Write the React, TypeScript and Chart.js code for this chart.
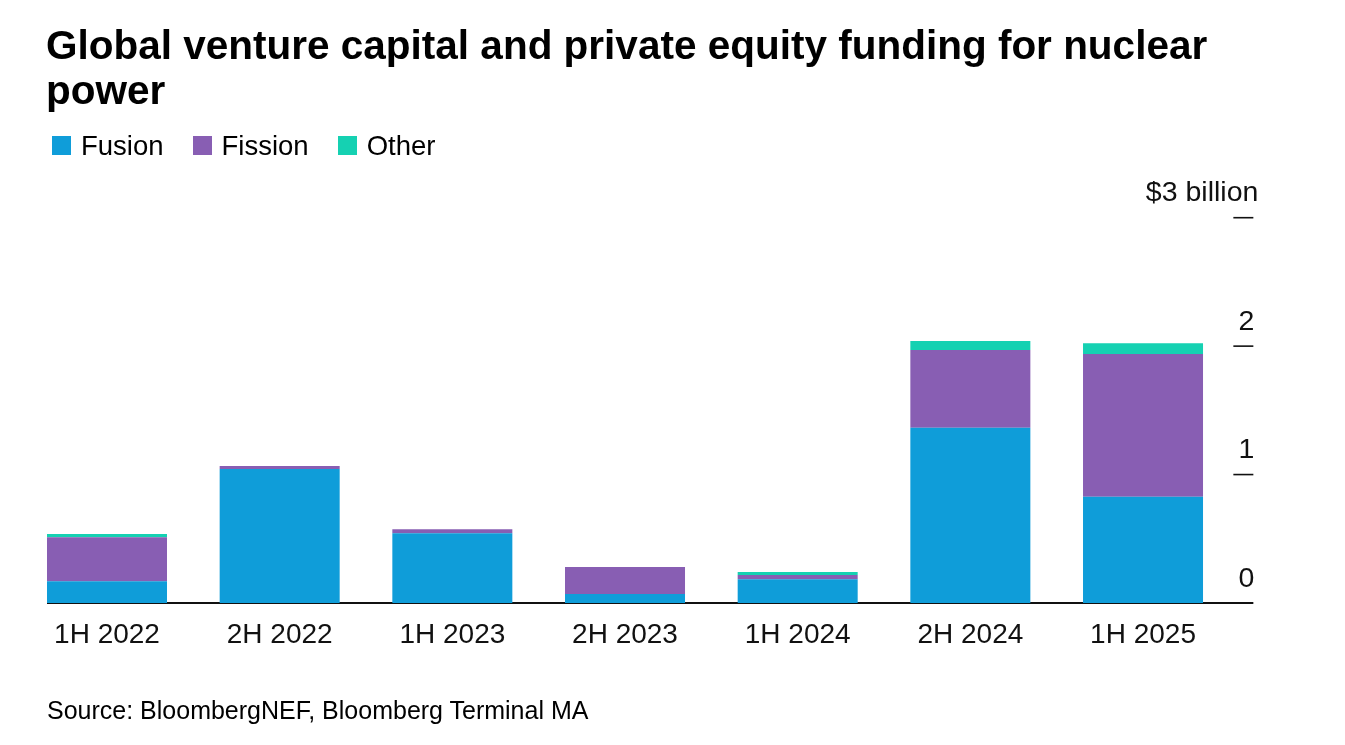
import React, { useEffect, useRef } from "react";
import { Chart, registerables } from "chart.js";

Chart.register(...registerables);

const categories = ["1H 2022", "2H 2022", "1H 2023", "2H 2023", "1H 2024", "2H 2024", "1H 2025"];
const fusion = [0.17, 1.044, 0.543, 0.07, 0.185, 1.365, 0.828];
const fission = [0.342, 0.023, 0.031, 0.21, 0.033, 0.605, 1.111];
const other = [0.025, 0, 0, 0, 0.023, 0.07, 0.084];
const seriesNames = ["Fusion", "Fission", "Other"];
const seriesColors = ["#0f9dd9", "#885eb3", "#15d1b2"];
const yTicks = [0, 1, 2, 3];
const yTickLabels = ["0", "1", "2", "$3 billion"];

const FONT = '"Liberation Sans", Arial, Helvetica, sans-serif';

const axisPlugin = {
  id: "axisDeco",
  beforeDatasetsDraw(chart: any) {
    const { ctx, chartArea, scales } = chart;
    const y = scales.y;
    const meta = chart.getDatasetMeta(0);
    const first: any = meta.data[0];
    const left = first.x - first.width / 2;
    const y0 = y.getPixelForValue(0);
    ctx.save();
    ctx.strokeStyle = "#111111";
    ctx.lineWidth = 2;
    ctx.beginPath();
    ctx.moveTo(left, y0);
    ctx.lineTo(chartArea.right + 24, y0);
    ctx.stroke();
    ctx.restore();
  },
  afterDatasetsDraw(chart: any) {
    const { ctx, chartArea, scales } = chart;
    const x = scales.x;
    const y = scales.y;
    ctx.save();
    ctx.strokeStyle = "#111111";
    ctx.lineWidth = 1.6;
    ctx.fillStyle = "#111111";
    ctx.font = `28.5px ${FONT}`;
    ctx.textAlign = "right";
    ctx.textBaseline = "alphabetic";
    yTicks.forEach((v, i) => {
      const py = y.getPixelForValue(v);
      if (v !== 0) {
        ctx.beginPath();
        ctx.moveTo(chartArea.right + 4, py);
        ctx.lineTo(chartArea.right + 24, py);
        ctx.stroke();
      }
      const isTop = i === yTicks.length - 1;
      ctx.fillText(yTickLabels[i], chartArea.right + (isTop ? 29 : 25), py - 16.5);
    });
    ctx.textAlign = "center";
    ctx.font = `28px ${FONT}`;
    const y0 = y.getPixelForValue(0);
    categories.forEach((c, i) => {
      ctx.fillText(c, x.getPixelForValue(i), y0 + 40);
    });
    ctx.restore();
  },
};

export default function App() {
  const ref = useRef<HTMLCanvasElement>(null);
  useEffect(() => {
    if (!ref.current) return;
    const W = 1345;
    const catW = 172.67;
    const firstCenter = 107;
    const padLeft = firstCenter - catW / 2;
    const padRight = W - (padLeft + catW * categories.length);
    const chart = new Chart(ref.current, {
      type: "bar",
      data: {
        labels: categories,
        datasets: [fusion, fission, other].map((d, i) => ({
          label: seriesNames[i],
          data: d,
          backgroundColor: seriesColors[i],
          borderWidth: 0,
          categoryPercentage: 1,
          barPercentage: 0.695,
        })),
      },
      options: {
        animation: false,
        responsive: true,
        maintainAspectRatio: false,
        layout: { padding: { left: padLeft, right: padRight, top: 217.7, bottom: 142 } },
        plugins: { legend: { display: false }, tooltip: { enabled: false }, title: { display: false } },
        scales: {
          x: { stacked: true, display: false },
          y: { stacked: true, display: false, min: 0, max: 3 },
        },
      },
      plugins: [axisPlugin],
    });
    return () => chart.destroy();
  }, []);

  return (
    <div style={{ position: "absolute", left: 0, top: 0, width: 1345, height: 745, background: "#fff", fontFamily: FONT, color: "#000" }}>
      <div style={{ position: "absolute", left: 0, top: 0, width: 1345, height: 745 }}>
        <canvas ref={ref} />
      </div>
      <div style={{ position: "absolute", left: 46, top: 23.4, width: 1280, fontSize: 40.5, lineHeight: "45px", fontWeight: 700, whiteSpace: "nowrap" }}>
        Global venture capital and private equity funding for nuclear
        <br />
        power
      </div>
      <div style={{ position: "absolute", left: 52, top: 130.5, display: "flex", alignItems: "center", fontSize: 27.5, lineHeight: "30px", whiteSpace: "nowrap" }}>
        {seriesNames.map((n, i) => (
          <div key={n} style={{ display: "flex", alignItems: "center", marginRight: 29 }}>
            <span style={{ display: "inline-block", width: 19, height: 19, background: seriesColors[i], marginRight: 10 }} />
            <span>{n}</span>
          </div>
        ))}
      </div>
      <div style={{ position: "absolute", left: 47, top: 695.5, fontSize: 25, lineHeight: "28px", whiteSpace: "nowrap" }}>
        Source: BloombergNEF, Bloomberg Terminal MA
      </div>
    </div>
  );
}
